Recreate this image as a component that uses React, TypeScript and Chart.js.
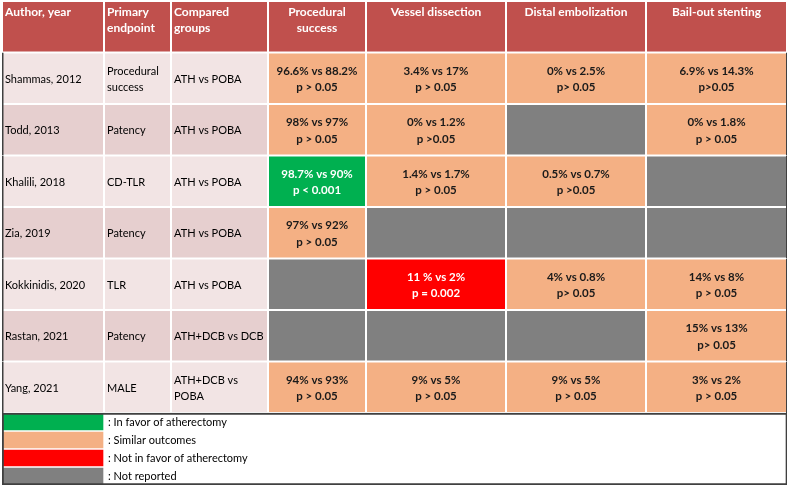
import React, { useEffect, useRef } from "react";
import { Chart, registerables } from "chart.js";

Chart.register(...registerables);

// ---------- DATA ----------
const HEADERS = [
  "Author, year",
  "Primary endpoint",
  "Compared groups",
  "Procedural success",
  "Vessel dissection",
  "Distal embolization",
  "Bail-out stenting",
];
const AUTHORS = ["Shammas, 2012", "Todd, 2013", "Khalili, 2018", "Zia, 2019", "Kokkinidis, 2020", "Rastan, 2021", "Yang, 2021"];
const ENDPOINTS = ["Procedural success", "Patency", "CD-TLR", "Patency", "TLR", "Patency", "MALE"];
const GROUPS = ["ATH vs POBA", "ATH vs POBA", "ATH vs POBA", "ATH vs POBA", "ATH vs POBA", "ATH+DCB vs DCB", "ATH+DCB vs POBA"];

// outcome results: favor | similar | against | nr (not reported)
const PROC_VALUES = ["96.6% vs 88.2%", "98% vs 97%", "98.7% vs 90%", "97% vs 92%", null, null, "94% vs 93%"];
const PROC_P = ["p > 0.05", "p > 0.05", "p < 0.001", "p > 0.05", null, null, "p > 0.05"];
const PROC_RESULT = ["similar", "similar", "favor", "similar", "nr", "nr", "similar"];

const DISSECTION_VALUES = ["3.4% vs 17%", "0% vs 1.2%", "1.4% vs 1.7%", null, "11 % vs 2%", null, "9% vs 5%"];
const DISSECTION_P = ["p > 0.05", "p >0.05", "p > 0.05", null, "p = 0.002", null, "p > 0.05"];
const DISSECTION_RESULT = ["similar", "similar", "similar", "nr", "against", "nr", "similar"];

const EMBOLIZATION_VALUES = ["0% vs 2.5%", null, "0.5% vs 0.7%", null, "4% vs 0.8%", null, "9% vs 5%"];
const EMBOLIZATION_P = ["p> 0.05", null, "p >0.05", null, "p> 0.05", null, "p > 0.05"];
const EMBOLIZATION_RESULT = ["similar", "nr", "similar", "nr", "similar", "nr", "similar"];

const BAILOUT_VALUES = ["6.9% vs 14.3%", "0% vs 1.8%", null, null, "14% vs 8%", "15% vs 13%", "3% vs 2%"];
const BAILOUT_P = ["p>0.05", "p > 0.05", null, null, "p > 0.05", "p> 0.05", "p > 0.05"];
const BAILOUT_RESULT = ["similar", "similar", "nr", "nr", "similar", "similar", "similar"];

const LEGEND_KEYS = ["favor", "similar", "against", "nr"];
const LEGEND_LABELS = ["In favor of atherectomy", "Similar outcomes", "Not in favor of atherectomy", "Not reported"];

// ---------- LAYOUT / STYLE ----------
const COL_EDGES = [0, 102, 169, 266, 364, 504, 644, 785];
const ROW_H = 2.861; // data row height in legend-row units
const N_ROWS = 1 + AUTHORS.length;
const Y_MAX = N_ROWS * ROW_H + LEGEND_KEYS.length;
const rowCenter = (r: number) => (r + 0.5) * ROW_H;
const legendCenter = (i: number) => N_ROWS * ROW_H + i + 0.5;

const HEADER_COLOR = "#C0504D";
const BAND_COLORS = ["#F2E4E4", "#E6CFCF"];
const RESULT_COLORS: Record<string, string> = {
  favor: "#00B050",
  similar: "#F4B084",
  against: "#FF0000",
  nr: "#808080",
};
const BORDER_DARK = "#404040";
const FONT = "Lato, 'Open Sans', sans-serif";

type Cell = {
  text: string[];
  bold: boolean;
  color: string;
  align: "left" | "center";
  valign: "top" | "middle";
  wrap: boolean;
  fill: string;
};

const OUTCOMES = [
  [PROC_VALUES, PROC_P, PROC_RESULT],
  [DISSECTION_VALUES, DISSECTION_P, DISSECTION_RESULT],
  [EMBOLIZATION_VALUES, EMBOLIZATION_P, EMBOLIZATION_RESULT],
  [BAILOUT_VALUES, BAILOUT_P, BAILOUT_RESULT],
] as (string | null)[][][];

function buildCells(c: number): Cell[] {
  const cells: Cell[] = [];
  cells.push({
    text: [HEADERS[c]],
    bold: true,
    color: "#FFFFFF",
    align: c < 3 ? "left" : "center",
    valign: "top",
    wrap: true,
    fill: HEADER_COLOR,
  });
  for (let r = 0; r < AUTHORS.length; r++) {
    if (c < 3) {
      const src = [AUTHORS, ENDPOINTS, GROUPS][c];
      cells.push({
        text: [src[r]],
        bold: false,
        color: "#000000",
        align: "left",
        valign: "middle",
        wrap: true,
        fill: BAND_COLORS[r % 2],
      });
    } else {
      const [vals, ps, res] = OUTCOMES[c - 3];
      const result = res[r] as string;
      cells.push({
        text: vals[r] ? [vals[r] as string, ps[r] as string] : [],
        bold: true,
        color: result === "favor" || result === "against" ? "#FFFFFF" : "#1A1A1A",
        align: "center",
        valign: "middle",
        wrap: false,
        fill: RESULT_COLORS[result],
      });
    }
  }
  return cells;
}

function wrapText(ctx: CanvasRenderingContext2D, text: string, maxW: number): string[] {
  const words = text.split(" ");
  const lines: string[] = [];
  let cur = "";
  for (const w of words) {
    const test = cur ? cur + " " + w : w;
    if (cur && ctx.measureText(test).width > maxW) {
      lines.push(cur);
      cur = w;
    } else cur = test;
  }
  if (cur) lines.push(cur);
  return lines;
}

const tableTextPlugin = {
  id: "tableText",
  afterDatasetsDraw(chart: any) {
    const ctx: CanvasRenderingContext2D = chart.ctx;
    ctx.save();
    chart.data.datasets.forEach((ds: any, di: number) => {
      const meta = chart.getDatasetMeta(di);
      if (ds.cells) {
        meta.data.forEach((el: any, i: number) => {
          const cell: Cell = ds.cells[i];
          if (!cell || !cell.text.length) return;
          const { x, y, base, height } = el.getProps(["x", "y", "base", "height"], true);
          const left = Math.min(x, base);
          const right = Math.max(x, base);
          const top = y - height / 2;
          const fontSize = cell.bold ? (cell.valign === "middle" ? 11.5 : 12) : 11;
          ctx.font = `${cell.bold ? "bold " : ""}${fontSize}px ${FONT}`;
          ctx.fillStyle = cell.color;
          ctx.textBaseline = "middle";
          ctx.textAlign = cell.align;
          const pad = 3;
          let lines: string[] = [];
          cell.text.forEach((t) => {
            lines = lines.concat(cell.wrap ? wrapText(ctx, t, right - left - 4) : [t]);
          });
          const lh = 16.5;
          const tx = cell.align === "left" ? left + pad : (left + right) / 2;
          const y0 = cell.valign === "top" ? top + 11 : y + 1 - ((lines.length - 1) * lh) / 2;
          lines.forEach((ln, k) => ctx.fillText(ln, tx, y0 + k * lh));
        });
      }
      if (ds.legendLabels) {
        meta.data.forEach((el: any, i: number) => {
          const { x, base, y } = el.getProps(["x", "y", "base"], true);
          ctx.font = `11px ${FONT}`;
          ctx.fillStyle = "#000000";
          ctx.textAlign = "left";
          ctx.textBaseline = "middle";
          ctx.fillText(": " + ds.legendLabels[i], Math.max(x, base) + 4, y);
        });
      }
    });
    ctx.restore();
  },
};

export default function App() {
  const ref = useRef<HTMLCanvasElement | null>(null);
  useEffect(() => {
    document.body.style.margin = "0";
    if (!ref.current) return;

    const cellDatasets = HEADERS.map((h, c) => {
      const cells = buildCells(c);
      return {
        label: h,
        data: cells.map((_, r) => ({ x: [COL_EDGES[c], COL_EDGES[c + 1]], y: rowCenter(r) })),
        backgroundColor: cells.map((cl) => cl.fill),
        borderColor: "#FFFFFF",
        borderWidth: 1,
        borderSkipped: false,
        barPercentage: ROW_H,
        categoryPercentage: 1,
        grouped: false,
        cells,
        order: 2,
      };
    });

    const legendSwatches = {
      label: "legend",
      data: LEGEND_KEYS.map((_, i) => ({ x: [COL_EDGES[0], COL_EDGES[1]], y: legendCenter(i) })),
      backgroundColor: LEGEND_KEYS.map((k) => RESULT_COLORS[k]),
      borderColor: "#FFFFFF",
      borderWidth: 1,
      borderSkipped: false,
      barPercentage: 1,
      categoryPercentage: 1,
      grouped: false,
      legendLabels: LEGEND_LABELS,
      order: 2,
    };

    const bodyOutline = {
      label: "bodyOutline",
      data: AUTHORS.map((_, r) => ({ x: [COL_EDGES[0], COL_EDGES[COL_EDGES.length - 1]], y: rowCenter(r + 1) })),
      backgroundColor: "rgba(0,0,0,0)",
      borderColor: BORDER_DARK,
      borderWidth: { left: 1.5, right: 1, top: 0, bottom: 0 },
      borderSkipped: false,
      barPercentage: ROW_H,
      categoryPercentage: 1,
      grouped: false,
      order: -1,
    };

    const legendFrame = {
      label: "legendFrame",
      data: LEGEND_KEYS.map((_, i) => ({ x: [COL_EDGES[0], COL_EDGES[COL_EDGES.length - 1]], y: legendCenter(i) })),
      backgroundColor: "rgba(0,0,0,0)",
      borderColor: BORDER_DARK,
      borderWidth: LEGEND_KEYS.map((_, i) => ({
        left: 1.5,
        right: 1,
        top: i === 0 ? 1.5 : 0,
        bottom: i === LEGEND_KEYS.length - 1 ? 1.5 : 0,
      })),
      borderSkipped: false,
      barPercentage: 1,
      categoryPercentage: 1,
      grouped: false,
      order: -1,
    };

    const chart = new Chart(ref.current, {
      type: "bar",
      data: { datasets: [...cellDatasets, legendSwatches, bodyOutline, legendFrame] as any },
      options: {
        indexAxis: "y",
        responsive: false,
        animation: false,
        events: [],
        layout: { padding: { left: 2, right: 4, top: 1, bottom: 3 } },
        plugins: { legend: { display: false }, tooltip: { enabled: false } },
        scales: {
          x: { type: "linear", min: COL_EDGES[0], max: COL_EDGES[COL_EDGES.length - 1], display: false },
          y: {
            type: "linear",
            min: 0,
            max: Y_MAX,
            reverse: true,
            display: false,
            afterBuildTicks: (s: any) => {
              s.ticks = [];
            },
          },
        },
      } as any,
      plugins: [tableTextPlugin],
    });
    return () => chart.destroy();
  }, []);

  return <canvas ref={ref} width={791} height={488} style={{ display: "block" }} />;
}
